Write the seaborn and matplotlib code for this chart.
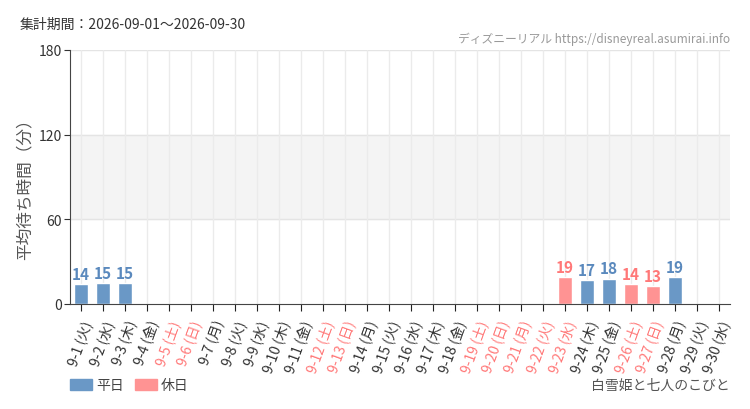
import numpy as np
import pandas as pd
import matplotlib
matplotlib.use("Agg")
import matplotlib.pyplot as plt
import seaborn as sns

# data
dates = [f"9-{d}" for d in range(1, 31)]
weekdays = ["火", "水", "木", "金", "土", "日", "月"] * 5
weekdays = weekdays[:30]
holidays = ["9-5", "9-6", "9-12", "9-13", "9-19", "9-20", "9-21", "9-22",
            "9-23", "9-26", "9-27"]
wait_dates = ["9-1", "9-2", "9-3", "9-23", "9-24", "9-25", "9-26", "9-27", "9-28"]
wait_values = [14, 15, 15, 19, 17, 18, 14, 13, 19]

BLUE = "#6a98c6"
PINK = "#ff9393"
BLUE_TXT = "#5a89bd"
PINK_TXT = "#ff7878"

sns.set_style("white")
plt.rcParams['font.family'] = ['Noto Sans CJK JP', 'DejaVu Sans']

labels = [f"{d} ({w})" for d, w in zip(dates, weekdays)]
vals = dict(zip(wait_dates, wait_values))
df = pd.DataFrame({
    "label": labels,
    "date": dates,
    "value": [vals.get(d, np.nan) for d in dates],
    "type": ["休日" if d in holidays else "平日" for d in dates],
})

fig = plt.figure(figsize=(7.5, 4.1), dpi=100)
ax = fig.add_axes([70 / 750, 105 / 410, 660 / 750, 254 / 410])

ax.axhspan(60, 120, color="#f4f4f4", zorder=0)
for y in [60, 120, 180]:
    ax.axhline(y, color="#e4e4e4", lw=1, zorder=0.5)
for i in range(30):
    ax.axvline(i, color="#ebebeb", lw=1, zorder=0.5)

sns.barplot(data=df, x="label", y="value", hue="type",
            palette={"平日": BLUE, "休日": PINK}, dodge=False, saturation=1,
            width=0.68, legend=False, ax=ax, zorder=2)

for i, row in df.iterrows():
    if not np.isnan(row["value"]):
        c = PINK_TXT if row["type"] == "休日" else BLUE_TXT
        ax.text(i, row["value"] + 1.5, f"{int(row['value'])}", ha="center",
                va="bottom", color=c, fontsize=11, fontweight="bold")

ax.set_xlim(-0.5, 29.5)
ax.set_ylim(0, 180)
ax.set_yticks([0, 60, 120, 180])
ax.set_xlabel("")
ax.set_ylabel("平均待ち時間（分）", color="#555555", fontsize=12)
ax.yaxis.set_label_coords(-36 / 660, 0.47)
ax.tick_params(axis="y", labelsize=10, colors="#333333", length=4, direction="out", left=True, pad=2)
ax.tick_params(axis="x", length=5, color="#222222", direction="out", bottom=True, pad=5)
ax.set_xticks(range(30))
ax.set_xticklabels(labels, rotation=70, ha="right", rotation_mode="anchor", fontsize=10)
for lbl, t in zip(ax.get_xticklabels(), df["type"]):
    lbl.set_color(PINK_TXT if t == "休日" else "#333333")

for s in ["top", "right"]:
    ax.spines[s].set_visible(False)
ax.spines["left"].set_color("#444444")
ax.spines["bottom"].set_color("#444444")

fig.text(20 / 750, 1 - 25 / 410, "集計期間：2026-09-01～2026-09-30", fontsize=10,
         color="#333333", va="center")
fig.text(730 / 750, 1 - 39 / 410, "ディズニーリアル https://disneyreal.asumirai.info",
         fontsize=8.5, color="#999999", ha="right", va="center")

# legend
fig.patches.append(plt.Rectangle((70 / 750, 1 - 391 / 410), 22 / 750, 11 / 410,
                                 color=BLUE, transform=fig.transFigure))
fig.text(96 / 750, 1 - 386 / 410, "平日", fontsize=10, color="#444444", va="center")
fig.patches.append(plt.Rectangle((135 / 750, 1 - 391 / 410), 22 / 750, 11 / 410,
                                 color=PINK, transform=fig.transFigure))
fig.text(161 / 750, 1 - 386 / 410, "休日", fontsize=10, color="#444444", va="center")
fig.text(730 / 750, 1 - 386 / 410, "白雪姫と七人のこびと", fontsize=10,
         color="#555555", ha="right", va="center")

fig.savefig("out.png", dpi=100, facecolor="white")
